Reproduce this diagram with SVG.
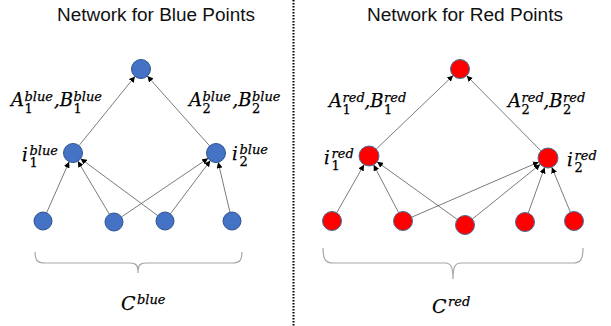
<svg xmlns="http://www.w3.org/2000/svg" width="611" height="326" viewBox="0 0 611 326">
  <style>
    .title { font-family: "Liberation Sans", Arial, sans-serif; font-size: 18px; fill: #111; }
    .m { font-family: "DejaVu Serif", "Liberation Serif", serif; font-style: italic; font-size: 18px; fill: #000; stroke: #000; stroke-width: 0.25; }
    .s { font-size: 13px; }
    .n { font-style: normal; font-size: 13px; }
    .blue { fill: #4472C4; stroke: #2F528F; stroke-width: 1; }
    .red { fill: #FF0000; stroke: #41719C; stroke-width: 1; }
    .edge { stroke: #595959; stroke-width: 0.8; fill: none; marker-end: url(#arrow); }
    .brace { stroke: #A6A6A6; stroke-width: 1.2; fill: none; }
  </style>
  <defs>
    <marker id="arrow" markerUnits="userSpaceOnUse" markerWidth="7" markerHeight="6" refX="6" refY="3" orient="auto">
      <path d="M0,0 L6,3 L0,6 Z" fill="#000"/>
    </marker>
  </defs>

  <rect width="611" height="326" fill="#fff"/>

  <!-- titles -->
  <text class="title" x="156" y="21" text-anchor="middle" textLength="198" lengthAdjust="spacingAndGlyphs">Network for Blue Points</text>
  <text class="title" x="465" y="21" text-anchor="middle" textLength="196" lengthAdjust="spacingAndGlyphs">Network for Red Points</text>

  <!-- dotted divider -->
  <line x1="293.5" y1="0" x2="293.5" y2="326" stroke="#000" stroke-width="2" stroke-dasharray="1.5 1.5"/>

  <!-- connectors -->
  <g id="connectors">
    <!-- blue network -->
    <line class="edge" x1="78.98" y1="145.62" x2="135.02" y2="76.38"/>
    <line class="edge" x1="209.67" y1="145.91" x2="147.33" y2="76.09"/>
    <line class="edge" x1="46.63" y1="212.76" x2="69.16" y2="161.69"/>
    <line class="edge" x1="109.4" y1="214.26" x2="77.85" y2="161.17"/>
    <line class="edge" x1="157.76" y1="215.65" x2="80.64" y2="158.65"/>
    <line class="edge" x1="121.46" y1="216.96" x2="208.13" y2="158.32"/>
    <line class="edge" x1="170.4" y1="213.8" x2="210.3" y2="160.6"/>
    <line class="edge" x1="229.94" y1="212.24" x2="218.18" y2="162.25"/>
    <!-- red network -->
    <line class="edge" x1="376.23" y1="149.09" x2="453.13" y2="75.56"/>
    <line class="edge" x1="540.97" y1="150.89" x2="466.68" y2="75.75"/>
    <line class="edge" x1="336.7" y1="212.74" x2="364.05" y2="164.69"/>
    <line class="edge" x1="398.6" y1="212.58" x2="373.64" y2="164.86"/>
    <line class="edge" x1="457.29" y1="219.45" x2="377.12" y2="161.84"/>
    <line class="edge" x1="411.71" y1="217.21" x2="538.83" y2="161.99"/>
    <line class="edge" x1="472.39" y1="219.03" x2="540.22" y2="164.28"/>
    <line class="edge" x1="528.21" y1="213.06" x2="544.62" y2="167.41"/>
    <line class="edge" x1="570.38" y1="212.22" x2="551.82" y2="167.24"/>
  </g>

  <!-- blue network nodes -->
  <g id="blue-out"><circle class="blue" cx="141" cy="69" r="9.5"/></g>
  <g id="blue-i1"><circle class="blue" cx="73" cy="153" r="9.5"/></g>
  <g id="blue-i2"><circle class="blue" cx="216" cy="153" r="9.5"/></g>
  <g id="blue-c1"><circle class="blue" cx="43" cy="221" r="9"/></g>
  <g id="blue-c2"><circle class="blue" cx="114" cy="222" r="9"/></g>
  <g id="blue-c3"><circle class="blue" cx="165" cy="221" r="9"/></g>
  <g id="blue-c4"><circle class="blue" cx="232" cy="221" r="9"/></g>

  <!-- red network nodes -->
  <g id="red-out"><circle class="red" cx="460" cy="69" r="9.5"/></g>
  <g id="red-i1"><circle class="red" cx="369" cy="156" r="10"/></g>
  <g id="red-i2"><circle class="red" cx="548" cy="158" r="10"/></g>
  <g id="red-c1"><circle class="red" cx="332" cy="221" r="9.5"/></g>
  <g id="red-c2"><circle class="red" cx="403" cy="221" r="9.5"/></g>
  <g id="red-c3"><circle class="red" cx="465" cy="225" r="9.5"/></g>
  <g id="red-c4"><circle class="red" cx="525" cy="222" r="9.5"/></g>
  <g id="red-c5"><circle class="red" cx="574" cy="221" r="9.5"/></g>

  <!-- blue labels -->
  <text id="label-blue-ab1" class="m"><tspan x="11" y="106">A</tspan><tspan class="s" x="24.5" y="100.5">blue</tspan><tspan class="n" x="24.5" y="112.5">1</tspan><tspan x="54" y="106">,B</tspan><tspan class="s" x="73.5" y="100.5">blue</tspan><tspan class="n" x="73.5" y="112.5">1</tspan></text>
  <text id="label-blue-ab2" class="m"><tspan x="189" y="106">A</tspan><tspan class="s" x="202.5" y="100.5">blue</tspan><tspan class="n" x="202.5" y="112.5">2</tspan><tspan x="232.5" y="106">,B</tspan><tspan class="s" x="252" y="100.5">blue</tspan><tspan class="n" x="252" y="112.5">2</tspan></text>
  <text id="label-blue-i1" class="m"><tspan x="22" y="161">i</tspan><tspan class="s" x="29.5" y="154.5">blue</tspan><tspan class="n" x="29.5" y="167">1</tspan></text>
  <text id="label-blue-i2" class="m"><tspan x="232" y="160">i</tspan><tspan class="s" x="239.5" y="153.5">blue</tspan><tspan class="n" x="239.5" y="166">2</tspan></text>

  <!-- red labels -->
  <text id="label-red-ab1" class="m"><tspan x="329" y="107">A</tspan><tspan class="s" x="342.5" y="101.5">red</tspan><tspan class="n" x="342.5" y="113.5">1</tspan><tspan x="364.5" y="107">,B</tspan><tspan class="s" x="384" y="101.5">red</tspan><tspan class="n" x="384" y="113.5">1</tspan></text>
  <text id="label-red-ab2" class="m"><tspan x="508" y="107">A</tspan><tspan class="s" x="521.5" y="101.5">red</tspan><tspan class="n" x="521.5" y="113.5">2</tspan><tspan x="543.5" y="107">,B</tspan><tspan class="s" x="563" y="101.5">red</tspan><tspan class="n" x="563" y="113.5">2</tspan></text>
  <text id="label-red-i1" class="m"><tspan x="324" y="164">i</tspan><tspan class="s" x="331.5" y="157.5">red</tspan><tspan class="n" x="331.5" y="170">1</tspan></text>
  <text id="label-red-i2" class="m"><tspan x="567" y="166">i</tspan><tspan class="s" x="574.5" y="159.5">red</tspan><tspan class="n" x="574.5" y="172">2</tspan></text>

  <!-- braces grouping the input points -->
  <path class="brace" d="M35,252 C35,260 37,263 45,263 H130 C136,263 138,265 138,273 C138,265 140,263 146,263 H232 C240,263 242,260 242,252"/>
  <path class="brace" d="M323,248 C323,259 325,263 333,263 H445 C451,263 453,267 453,279 C453,267 455,263 461,263 H573 C581,263 583,259 583,248"/>

  <text id="label-c-blue" class="m"><tspan x="121" y="310" style="font-size:19px">C</tspan><tspan class="s" x="137" y="303.5">blue</tspan></text>
  <text id="label-c-red" class="m"><tspan x="432" y="313" style="font-size:19px">C</tspan><tspan class="s" x="448" y="306">red</tspan></text>
</svg>
